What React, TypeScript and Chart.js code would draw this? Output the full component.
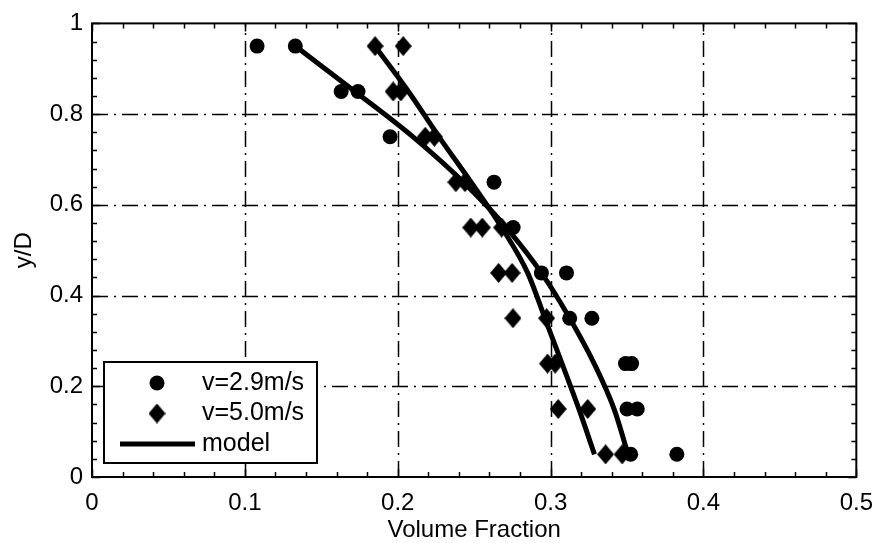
import React, { useEffect, useRef } from "react";
import { Chart, registerables } from "chart.js";
Chart.register(...registerables);

const xTicks = [0, 0.1, 0.2, 0.3, 0.4, 0.5];
const yTicks = [0, 0.2, 0.4, 0.6, 0.8, 1];
const xTitle = "Volume Fraction";
const yTitle = "y/D";

const circleLabel = "v=2.9m/s";
const circleX = [0.108, 0.133, 0.163, 0.174, 0.195, 0.263, 0.2755, 0.294, 0.3104, 0.3125, 0.327, 0.349, 0.353, 0.35, 0.3567, 0.3524, 0.3826];
const circleY = [0.95, 0.95, 0.85, 0.85, 0.75, 0.65, 0.55, 0.45, 0.45, 0.35, 0.35, 0.25, 0.25, 0.15, 0.15, 0.05, 0.05];

const diamondLabel = "v=5.0m/s";
const diamondX = [0.1852, 0.2036, 0.197, 0.202, 0.218, 0.224, 0.238, 0.244, 0.2478, 0.2553, 0.268, 0.266, 0.2748, 0.2754, 0.2974, 0.298, 0.303, 0.305, 0.3243, 0.336, 0.3468];
const diamondY = [0.95, 0.95, 0.85, 0.85, 0.75, 0.75, 0.65, 0.65, 0.55, 0.55, 0.55, 0.45, 0.45, 0.35, 0.35, 0.25, 0.25, 0.15, 0.15, 0.05, 0.05];

const modelLabel = "model";
const modelY = [0.95, 0.85, 0.75, 0.65, 0.55, 0.45, 0.35, 0.25, 0.15, 0.05];
const model29X = [0.133, 0.172, 0.21, 0.243, 0.271, 0.294, 0.3125, 0.3285, 0.3415, 0.3507];
const model50X = [0.185, 0.207, 0.227, 0.248, 0.268, 0.285, 0.2963, 0.3075, 0.3185, 0.3287];

const FONT = "'Liberation Sans', Arial, Helvetica, sans-serif";

function makeDiamond(): HTMLCanvasElement {
  const c = document.createElement("canvas");
  c.width = 17;
  c.height = 20;
  const g = c.getContext("2d")!;
  g.fillStyle = "#000";
  g.beginPath();
  g.moveTo(8.5, 0);
  g.lineTo(17, 10);
  g.lineTo(8.5, 20);
  g.lineTo(0, 10);
  g.closePath();
  g.fill();
  return c;
}

const frame = {
  id: "frame",
  beforeDatasetsDraw(chart: any) {
    const { ctx, chartArea: a, scales } = chart;
    const xs = scales.x, ys = scales.y;
    ctx.save();
    ctx.strokeStyle = "#000";
    ctx.lineWidth = 1.5;
    ctx.setLineDash([16, 6, 2, 6]);
    xTicks.forEach((v) => {
      if (v === xs.min || v === xs.max) return;
      const px = Math.round(xs.getPixelForValue(v)) + 0.5;
      ctx.beginPath();
      ctx.moveTo(px, a.bottom);
      ctx.lineTo(px, a.top);
      ctx.stroke();
    });
    yTicks.forEach((v) => {
      if (v === ys.min || v === ys.max) return;
      const py = Math.round(ys.getPixelForValue(v)) + 0.5;
      ctx.beginPath();
      ctx.moveTo(a.left, py);
      ctx.lineTo(a.right, py);
      ctx.stroke();
    });
    ctx.setLineDash([]);
    ctx.lineWidth = 1.5;
    const minorX: number[] = [];
    for (let i = 0; i <= 25; i++) minorX.push(i * 0.02);
    const minorY: number[] = [];
    for (let i = 0; i <= 25; i++) minorY.push(i * 0.04);
    minorX.forEach((v, i) => {
      const len = i % 5 === 0 ? 8 : 5;
      const px = Math.round(xs.getPixelForValue(v)) + 0.5;
      ctx.beginPath();
      ctx.moveTo(px, a.bottom);
      ctx.lineTo(px, a.bottom - len);
      ctx.moveTo(px, a.top);
      ctx.lineTo(px, a.top + len);
      ctx.stroke();
    });
    minorY.forEach((v, i) => {
      const len = i % 5 === 0 ? 8 : 5;
      const py = Math.round(ys.getPixelForValue(v)) + 0.5;
      ctx.beginPath();
      ctx.moveTo(a.left, py);
      ctx.lineTo(a.left + len, py);
      ctx.moveTo(a.right, py);
      ctx.lineTo(a.right - len, py);
      ctx.stroke();
    });
    ctx.lineWidth = 2;
    ctx.strokeRect(a.left, a.top, a.right - a.left, a.bottom - a.top);
    ctx.restore();
  },
  afterDraw(chart: any) {
    const { ctx, chartArea: a } = chart;
    const ds = chart.data.datasets;
    const bx = a.left + 12, by = a.bottom - 115, bw = 213, bh = 101;
    ctx.save();
    ctx.fillStyle = "#fff";
    ctx.fillRect(bx, by, bw, bh);
    ctx.strokeStyle = "#000";
    ctx.lineWidth = 2;
    ctx.strokeRect(bx, by, bw, bh);
    const mx = bx + 53;
    const tx = bx + 98;
    const rows = [by + 21, by + 51.5, by + 82];
    ctx.fillStyle = "#000";
    ctx.beginPath();
    ctx.arc(mx, rows[0], 7.5, 0, Math.PI * 2);
    ctx.fill();
    const d = ds[1].pointStyle as HTMLCanvasElement;
    ctx.drawImage(d, mx - d.width / 2, rows[1] - d.height / 2);
    ctx.lineWidth = 5;
    ctx.beginPath();
    ctx.moveTo(bx + 16, rows[2]);
    ctx.lineTo(bx + 91, rows[2]);
    ctx.stroke();
    ctx.font = `25px ${FONT}`;
    ctx.textBaseline = "middle";
    ctx.textAlign = "left";
    ctx.fillText(ds[0].label, tx, rows[0]);
    ctx.fillText(ds[1].label, tx, rows[1]);
    ctx.fillText(ds[2].label, tx, rows[2]);
    ctx.restore();
  },
};

export default function App() {
  const ref = useRef<HTMLCanvasElement>(null);
  useEffect(() => {
    document.body.style.margin = "0";
    const diamond = makeDiamond();
    const chart = new Chart(ref.current!, {
      type: "scatter",
      data: {
        datasets: [
          {
            label: circleLabel,
            data: circleX.map((x, i) => ({ x, y: circleY[i] })),
            pointStyle: "circle",
            pointRadius: 7.5,
            backgroundColor: "#000",
            borderColor: "#000",
            borderWidth: 0,
            showLine: false,
          },
          {
            label: diamondLabel,
            data: diamondX.map((x, i) => ({ x, y: diamondY[i] })),
            pointStyle: diamond as any,
            pointRadius: 8,
            backgroundColor: "#000",
            borderColor: "#000",
            showLine: false,
          },
          {
            label: modelLabel,
            data: model29X.map((x, i) => ({ x, y: modelY[i] })),
            showLine: true,
            pointRadius: 0,
            borderColor: "#000",
            borderWidth: 5,
            cubicInterpolationMode: "monotone",
          },
          {
            label: modelLabel,
            data: model50X.map((x, i) => ({ x, y: modelY[i] })),
            showLine: true,
            pointRadius: 0,
            borderColor: "#000",
            borderWidth: 5,
            cubicInterpolationMode: "monotone",
          },
        ],
      },
      options: {
        animation: false,
        responsive: false,
        layout: { padding: { left: 0, top: 16, right: 20, bottom: 0 } },
        plugins: { legend: { display: false }, tooltip: { enabled: false } },
        scales: {
          x: {
            type: "linear",
            min: 0,
            max: 0.5,
            afterBuildTicks: (s: any) => {
              s.ticks = xTicks.map((v) => ({ value: v }));
            },
            afterFit: (s: any) => {
              s.height = 66;
            },
            grid: { display: false, drawTicks: false },
            border: { display: false },
            ticks: {
              color: "#000",
              font: { family: FONT, size: 24 },
              padding: 12,
              maxRotation: 0,
              callback: (v: any) => String(v),
            },
            title: {
              display: true,
              text: xTitle,
              color: "#000",
              font: { family: FONT, size: 24 },
              padding: { top: 0, bottom: -2 },
            },
          },
          y: {
            type: "linear",
            min: 0,
            max: 1,
            afterBuildTicks: (s: any) => {
              s.ticks = yTicks.map((v) => ({ value: v }));
            },
            afterFit: (s: any) => {
              s.width = 92;
            },
            grid: { display: false, drawTicks: false },
            border: { display: false },
            ticks: {
              color: "#000",
              font: { family: FONT, size: 24 },
              padding: 9,
              callback: (v: any) => String(v),
            },
            title: {
              display: true,
              text: yTitle,
              color: "#000",
              font: { family: FONT, size: 24 },
              padding: { top: 10, bottom: 0 },
            },
          },
        },
      },
      plugins: [frame],
    });
    return () => chart.destroy();
  }, []);
  return <canvas ref={ref} width={885} height={543} style={{ display: "block" }} />;
}
